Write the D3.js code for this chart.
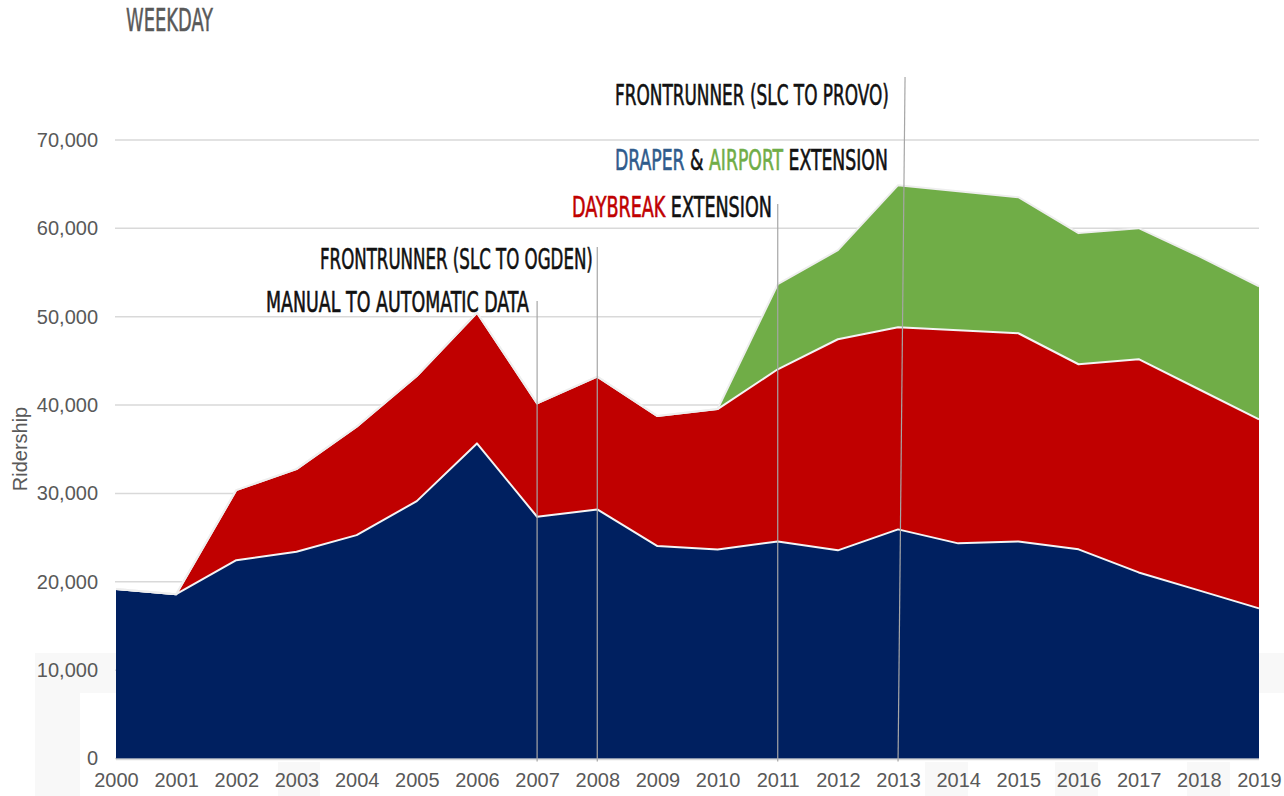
<!DOCTYPE html>
<html>
<head>
<meta charset="utf-8">
<script src="https://cdn.jsdelivr.net/npm/d3@7"></script>
<style>
  body { margin: 0; background: #fff; }
  svg { display: block; }
</style>
</head>
<body>
<script>
// weekday ridership by line
const years = [2000, 2001, 2002, 2003, 2004, 2005, 2006, 2007, 2008, 2009,
               2010, 2011, 2012, 2013, 2014, 2015, 2016, 2017, 2018, 2019];
const blueLine  = [19170, 18600, 22450, 23400, 25280, 29130, 35660, 27360, 28190, 24040,
                   23660, 24570, 23560, 25930, 24350, 24570, 23670, 21060, 19030, 16990];
const redLine   = [0, 0, 7930, 9350, 12270, 14150, 14790, 12830, 15020, 14710,
                   15890, 19480, 23890, 22880, 24120, 23560, 20950, 24130, 22760, 21400];
const greenLine = [0, 0, 0, 0, 0, 0, 0, 0, 0, 0,
                   0, 9630, 10080, 16080, 15740, 15400, 14840, 14830, 15060, 15060];
const yTicks = [0, 10000, 20000, 30000, 40000, 50000, 60000, 70000];

// milestone notes
const notes = [
  { year: 2007, parts: [["MANUAL TO AUTOMATIC DATA", "#111"]] },
  { year: 2008, parts: [["FRONTRUNNER (SLC TO OGDEN)", "#111"]] },
  { year: 2011, parts: [["DAYBREAK", "#c00000"], [" EXTENSION", "#111"]] },
  { year: 2013, parts: [["DRAPER", "#2f5b8c"], [" & ", "#111"], ["AIRPORT", "#70ad47"], [" EXTENSION", "#111"]] },
  { year: 2013, parts: [["FRONTRUNNER (SLC TO PROVO)", "#111"]] }
];
// where each note sits (left, right, baseline) and where its line starts
const noteLayout = [
  { left: 266, right: 529, base: 312, lineTop: 301 },
  { left: 320, right: 593, base: 269, lineTop: 247 },
  { left: 572, right: 772, base: 217, lineTop: 204 },
  { left: 615, right: 888, base: 170, lineTop: null },
  { left: 615, right: 889, base: 105, lineTop: 77 }
];

const width = 1284, height = 796;
const labelFont = "'Liberation Sans', Arial, sans-serif";
const narrowFont = "'Liberation Sans Narrow', 'DejaVu Sans Condensed', 'Roboto', sans-serif";

const svg = d3.select("body").append("svg")
    .attr("width", width)
    .attr("height", height);

// faint backdrop blocks along the bottom edge
const bg = svg.append("g").attr("fill", "#f8f8f8");
[[35, 653, 45, 143], [80, 653, 36, 40], [1259, 653, 25, 40],
 [278, 762, 42, 34], [925, 762, 43, 34], [1055, 762, 43, 34], [1187, 762, 43, 34]]
  .forEach(r => bg.append("rect").attr("x", r[0]).attr("y", r[1]).attr("width", r[2]).attr("height", r[3]));

const x = d3.scaleLinear().domain([2000, 2019]).range([116, 1259]);
const y = d3.scaleLinear().domain([0, 70000]).range([758.5, 140]);

// gridlines
svg.append("g")
  .selectAll("line")
  .data(yTicks)
  .join("line")
    .attr("x1", x(2000) - 1)
    .attr("x2", x(2019))
    .attr("y1", d => y(d))
    .attr("y2", d => y(d))
    .attr("stroke", "#d9d9d9")
    .attr("stroke-width", 1.5);

// y axis labels
const yAxis = svg.append("g")
    .attr("transform", `translate(${x(2000) - 18},0)`)
    .call(d3.axisLeft(y).tickValues(yTicks).tickSize(0).tickPadding(0).tickFormat(d3.format(",")));
yAxis.select(".domain").remove();
yAxis.selectAll("text")
    .attr("font-family", labelFont)
    .attr("font-size", 20)
    .attr("fill", "#595959");

// x axis labels
const xAxis = svg.append("g")
    .attr("transform", `translate(0,${y(0)})`)
    .call(d3.axisBottom(x).tickValues(years).tickSize(0).tickPadding(14).tickFormat(d3.format("d")));
xAxis.select(".domain").remove();
xAxis.selectAll("text")
    .attr("font-family", labelFont)
    .attr("font-size", 20)
    .attr("fill", "#595959");

// stacked areas
const rows = years.map((yr, i) => ({ year: yr, blue: blueLine[i], red: redLine[i], green: greenLine[i] }));
const keys = ["blue", "red", "green"];
const colors = { blue: "#002060", red: "#c00000", green: "#70ad47" };
const series = d3.stack().keys(keys)(rows);

const area = d3.area()
    .x(d => x(d.data.year))
    .y0(d => y(d[0]))
    .y1(d => y(d[1]));

svg.append("g")
  .selectAll("path")
  .data(series)
  .join("path")
    .attr("d", area)
    .attr("fill", d => colors[d.key]);

const topLine = d3.line()
    .x(d => x(d.data.year))
    .y(d => y(d[1]));

svg.append("g")
  .selectAll("path")
  .data(series)
  .join("path")
    .attr("d", topLine)
    .attr("fill", "none")
    .attr("stroke", (d, i) => i === 2 ? "#eeeeee" : "#f4f4f4")
    .attr("stroke-width", 2)
    .attr("stroke-linejoin", "round");

// x axis baseline
svg.append("line")
    .attr("x1", x(2000))
    .attr("x2", x(2019))
    .attr("y1", y(0) + 1)
    .attr("y2", y(0) + 1)
    .attr("stroke", "#d9d9d9")
    .attr("stroke-width", 1.5);

// milestone lines
const noteLines = svg.append("g")
    .attr("stroke", "#a6a6a6")
    .attr("stroke-width", 1.2);
notes.forEach((n, i) => {
  const l = noteLayout[i];
  if (l.lineTop === null) return;
  // the provo line leans a touch in the source
  const lean = n.year === 2013 ? 7 : 0;
  noteLines.append("line")
      .attr("x1", x(n.year) + lean)
      .attr("x2", x(n.year))
      .attr("y1", l.lineTop)
      .attr("y2", y(0) + 3);
});

// milestone labels, squeezed to the measured width
notes.forEach((n, i) => {
  const l = noteLayout[i];
  const t = svg.append("text")
      .attr("font-family", narrowFont)
      .attr("font-size", 28.5)
      .attr("stroke-width", 0.6);
  n.parts.forEach(p => t.append("tspan").attr("fill", p[1]).attr("stroke", p[1]).text(p[0]));
  const w = t.node().getComputedTextLength();
  t.attr("transform", `translate(${l.left},${l.base}) scale(${(l.right - l.left) / w},1)`);
});

// title
const title = svg.append("text")
    .attr("font-family", narrowFont)
    .attr("font-size", 32)
    .attr("fill", "#595959")
    .attr("stroke", "#595959")
    .attr("stroke-width", 0.5)
    .text("WEEKDAY");
const tw = title.node().getComputedTextLength();
title.attr("transform", `translate(126,31) scale(${87 / tw},1)`);

// axis title
svg.append("text")
    .attr("transform", `translate(27,449) rotate(-90)`)
    .attr("text-anchor", "middle")
    .attr("font-family", labelFont)
    .attr("font-size", 20)
    .attr("fill", "#595959")
    .text("Ridership");
</script>
</body>
</html>
